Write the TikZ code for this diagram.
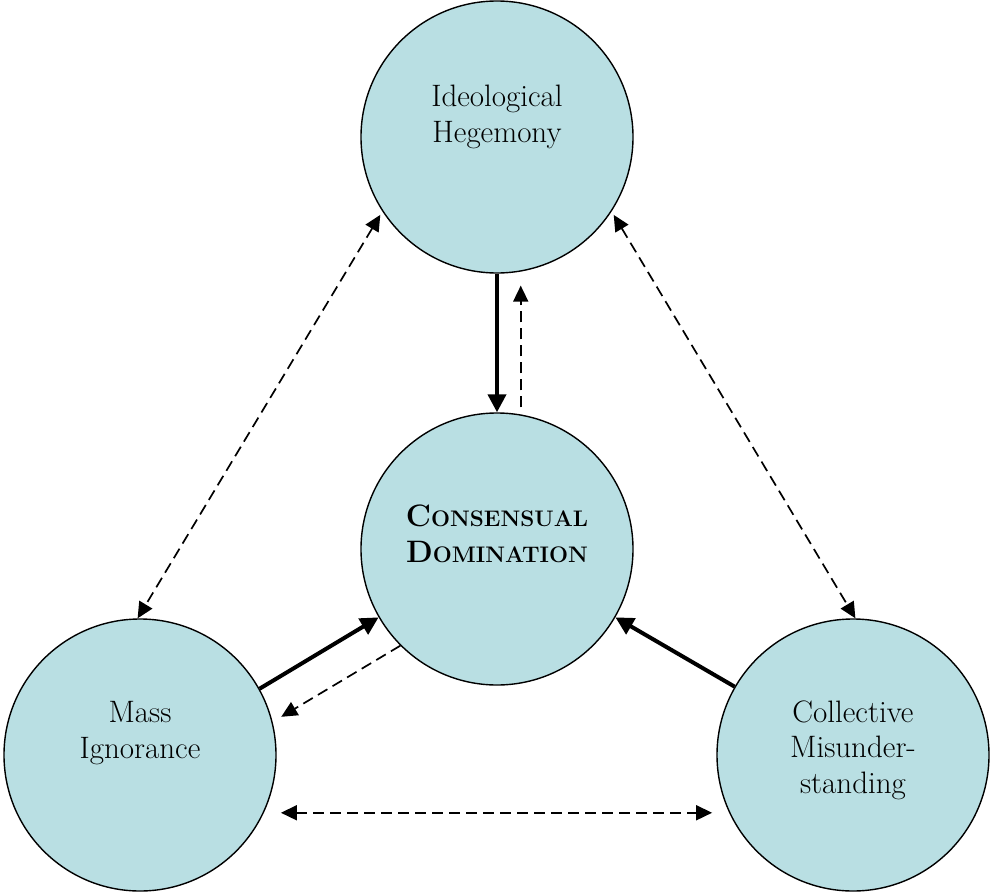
\documentclass[tikz,border=0pt]{standalone}
\usetikzlibrary{arrows.meta,calc}
\definecolor{cfill}{RGB}{185,223,227}
\begin{document}
\begin{tikzpicture}[x=1pt,y=-1pt,
 circ/.style={circle,draw,line width=1.4pt,fill=cfill,minimum size=272pt,inner sep=0pt},
 txt/.style={align=center,font=\fontsize{31}{35.5}\selectfont},
 thickarrow/.style={line width=4pt,-{Triangle[length=18pt,width=18pt]}},
 dasharrow/.style={line width=1.7pt,dash pattern=on 11pt off 6pt,-{Triangle[length=16pt,width=15pt]}},
 dasharrowboth/.style={line width=1.7pt,dash pattern=on 11pt off 6pt,{Triangle[length=16pt,width=15pt]}-{Triangle[length=16pt,width=15pt]}},
]
\useasboundingbox (0,0) rectangle (990,894);
\node[circ] (top) at (497,137) {};
\node[circ] (mid) at (497,549) {};
\node[circ] (left) at (140,755) {};
\node[circ] (right) at (853,755) {};
\node[txt] (toptxt) at (497,117) {Ideological\\Hegemony};
\node[txt] (midtxt) at (497,534) {\bfseries C{\fontsize{22.5}{35.5}\selectfont ONSENSUAL}\\\bfseries D{\fontsize{22.5}{35.5}\selectfont OMINATION}};
\node[txt] (lefttxt) at (140,733) {Mass\\Ignorance};
\node[txt] (righttxt) at (853,750) {Collective\\Misunder-\\standing};
\draw[thickarrow] (top.south) -- (mid.north);
\draw[dasharrow, shorten <=7pt, shorten >=14pt] (mid.80) -- (top.-80);
\draw[thickarrow] (left.29) -- (mid.210);
\draw[dasharrow, shorten >=10pt] (mid.225) -- (left.14.6);
\draw[thickarrow] (right.150.5) -- (mid.-30.5);
\draw[dasharrowboth, shorten <=17pt, shorten >=17pt] (left.-25.5) -- (right.205.5);
\draw[dasharrowboth, shorten <=4pt] (top.213) -- (left.91);
\draw[dasharrowboth, shorten <=4pt] (top.-33) -- (right.89);
\end{tikzpicture}
\end{document}
